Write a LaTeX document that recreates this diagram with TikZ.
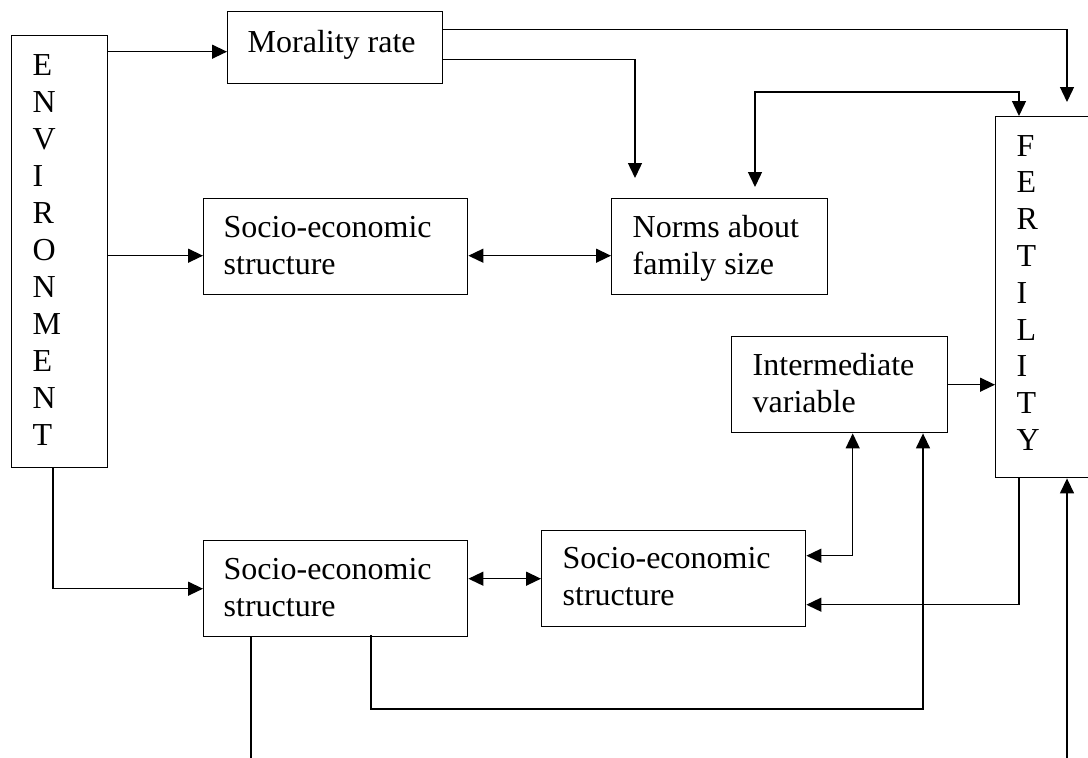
\documentclass[tikz,border=0pt]{standalone}
\usepackage{fontspec}
\setmainfont{Liberation Serif}
\usetikzlibrary{arrows.meta,calc}
\newcommand{\stacktxt}[3]{\parbox[t]{#1}{\raggedright\fontsize{32}{#2}\selectfont #3}}
\begin{document}
\begin{tikzpicture}[x=1pt,y=-1pt,line width=1.4pt,
  box/.style={draw,rectangle,inner sep=0pt,anchor=north west},
  txt/.style={anchor=base west,inner sep=0pt},
  arr/.style={-{Triangle[length=15pt,width=14pt]}},
  darr/.style={{Triangle[length=15pt,width=14pt]}-{Triangle[length=15pt,width=14pt]}}]
\useasboundingbox (0,0) rectangle (1088,758);
\clip (0,0) rectangle (1088,758);
\fill[white] (0,0) rectangle (1088,758);
% boxes
\node[box,minimum width=96pt,minimum height=432pt] (env) at (11,35) {};
\node[box,minimum width=215pt,minimum height=72pt] (mor) at (227,11) {};
\node[box,minimum width=264pt,minimum height=96pt] (se1) at (203,198) {};
\node[box,minimum width=216pt,minimum height=96pt] (norms) at (611,198) {};
\node[box,minimum width=110pt,minimum height=361pt] (fert) at (995,116) {};
\node[box,minimum width=216pt,minimum height=96pt] (inter) at (731,336) {};
\node[box,minimum width=264pt,minimum height=96pt] (se2) at (203,540) {};
\node[box,minimum width=264pt,minimum height=96pt] (se3) at (541,530) {};
% texts
\node[txt] (tenv) at (32,75) {\stacktxt{40pt}{37}{E\\N\\V\\I\\R\\O\\N\\M\\E\\N\\T}};
\node[txt] (tfert) at (1016,156) {\stacktxt{40pt}{36.8}{F\\E\\R\\T\\I\\L\\I\\T\\Y}};
\node[txt] (tmor) at (247,52) {\fontsize{32}{37}\selectfont Morality rate};
\node[txt] (tse1) at (223,237) {\stacktxt{240pt}{37}{Socio-economic\\structure}};
\node[txt] (tnorms) at (632,237) {\stacktxt{190pt}{37}{Norms about\\family size}};
\node[txt] (tinter) at (752,375) {\stacktxt{190pt}{37}{Intermediate\\variable}};
\node[txt] (tse2) at (223,579) {\stacktxt{240pt}{37}{Socio-economic\\structure}};
\node[txt] (tse3) at (562,568) {\stacktxt{240pt}{37}{Socio-economic\\structure}};
% free ends / bends
\coordinate (ftip) at (1067,102);
\coordinate (ntip) at (635,178);
\coordinate (ntip2) at (755,187);
\coordinate (nbend) at (755,92);
\coordinate (lowbend) at (923,709);
\coordinate (cut1) at (251,762);
\coordinate (cut2) at (1067,762);
\coordinate (m1) at ($(mor.west)+(0,4)$);
\coordinate (s1) at ($(se1.west)+(0,9)$);
% connectors
\draw[arr] (m1 -| env.east) -- (m1);
\draw[arr] (s1 -| env.east) -- (s1);
\draw[darr] ($(se1.east)+(0,9)$) -- ($(norms.west)+(0,9)$);
\draw[arr] ($(mor.east)+(0,-18)$) -| (ftip);
\draw[arr] ($(mor.east)+(0,12)$) -| (ntip);
\draw[darr] (ntip2) -- (nbend) -| ($(fert.north west)+(24,0)$);
\draw[arr] (inter.east) -- (inter.east -| fert.west);
\draw[arr] ($(env.south west)+(42,0)$) |- (se2.west);
\draw[darr] (se2.east |- se3.west) -- (se3.west);
\draw[darr] ($(se3.east)+(0,-23)$) -| ($(inter.south)+(13,0)$);
\draw[arr] ($(fert.south west)+(24,0)$) |- ($(se3.east)+(0,26)$);
\draw[arr] ($(se2.south west)+(168,-2)$) |- (lowbend) -- (lowbend |- inter.south);
\draw ($(se2.south west)+(48,0)$) -- (cut1);
\draw[arr] (cut2) -- (cut2 |- fert.south);
\end{tikzpicture}
\end{document}
